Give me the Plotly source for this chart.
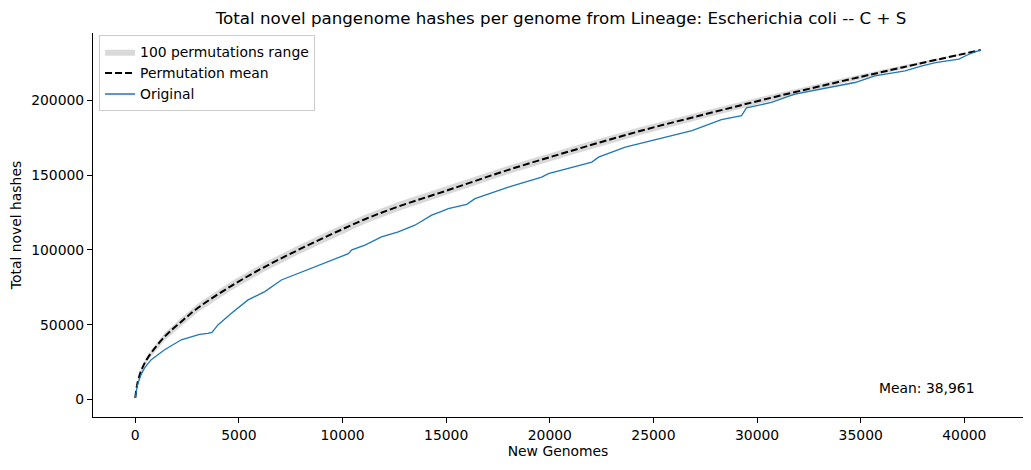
import plotly.graph_objects as go

# Permutation statistics
perm_x = [0, 100, 290, 610, 1415, 2220, 3030, 4640, 6250, 7860, 9470, 11080,
          12690, 15100, 18000, 21220, 24440, 27670, 30560, 33780, 37000, 40790]
perm_mean = [1000, 10500, 19500, 28000, 42000, 52000, 61300, 76000, 88700, 100000,
             110500, 120500, 129000, 140000, 153500, 167000, 179800, 191300,
             201300, 211800, 222000, 233600]
perm_upper = [1000, 11300, 21000, 30000, 44500, 54700, 64100, 79000, 91700, 103000,
              113500, 123500, 132000, 143000, 156300, 169700, 182400, 193700,
              203400, 213600, 223300, 233800]
perm_lower = [1000, 9700, 18000, 26000, 39500, 49300, 58500, 73000, 85700, 97000,
              107500, 117500, 126000, 137000, 150700, 164300, 177200, 188900,
              199200, 210000, 220700, 233400]

# Original ordering curve
orig_x = [0, 100, 290, 450, 770, 1415, 2220, 2700, 2900, 3100, 3500, 3700, 4000,
          4640, 5440, 6250, 7050, 7860, 8660, 9470, 10100, 10280, 10450, 11080,
          11880, 12690, 13490, 14300, 14780, 15100, 15990, 16390, 18000, 19610,
          19930, 21220, 22030, 22350, 23640, 25250, 26860, 28280, 29250, 29490,
          30690, 31820, 33110, 34720, 35690, 37140, 37960, 38610, 39740, 40220, 40790]
orig_y = [1000, 9500, 17000, 21100, 26600, 33300, 39900, 42000, 42600, 43600, 44200,
          44800, 50000, 57700, 66600, 72100, 79900, 84300, 88800, 92800, 96500,
          97500, 100000, 103200, 108700, 112100, 116500, 123200, 125800, 127600,
          130500, 134300, 142000, 148700, 151000, 155800, 158700, 162000, 168700,
          174200, 179800, 187100, 189700, 194900, 198600, 204200, 207500, 211900,
          216400, 219700, 223000, 225200, 227500, 230800, 233700]

x_ticks = [0, 5000, 10000, 15000, 20000, 25000, 30000, 35000, 40000]
y_ticks = [0, 50000, 100000, 150000, 200000]

title_text = "Total novel pangenome hashes per genome from Lineage: Escherichia coli -- C + S"
mean_label = "Mean: 38,961"

FONT = "DejaVu Sans"

fig = go.Figure()
fig.add_trace(go.Scatter(x=perm_x, y=perm_lower, mode="lines",
                         line=dict(width=0, color="rgba(128,128,128,0)"),
                         showlegend=False, hoverinfo="skip"))
fig.add_trace(go.Scatter(x=perm_x, y=perm_upper, mode="lines",
                         line=dict(width=0, color="rgba(128,128,128,0)"),
                         fill="tonexty", fillcolor="rgba(128,128,128,0.3)",
                         name="100 permutations range"))
fig.add_trace(go.Scatter(x=perm_x, y=perm_mean, mode="lines",
                         line=dict(color="black", width=2, dash="7px,3px"),
                         line_shape="spline",
                         name="Permutation mean"))
fig.add_trace(go.Scatter(x=orig_x, y=orig_y, mode="lines",
                         line=dict(color="#1f77b4", width=1.3),
                         name="Original"))

axis_common = dict(showline=True, linecolor="black", linewidth=1.1,
                   ticks="outside", ticklen=5, tickwidth=1.1, tickcolor="black",
                   showgrid=False, zeroline=False, mirror=False, automargin=False,
                   tickfont=dict(family=FONT, size=13.9, color="black"))

# The page body adds an 8px offset, so the figure is 8px smaller on each axis.
fig.update_layout(
    width=1023, height=462,
    margin=dict(l=85, r=8, t=25, b=53),
    plot_bgcolor="white", paper_bgcolor="white",
    font=dict(family=FONT, color="black"),
    title=dict(text=title_text, x=0.5406, xanchor="center", y=1 - 10 / 462,
               yanchor="middle", yref="container",
               font=dict(family=FONT, size=16.7, color="black")),
    xaxis=dict(range=[-2040, 42830], tickvals=x_ticks, tickformat="d",
               title=dict(text="New Genomes", standoff=4,
                          font=dict(family=FONT, size=13.9, color="black")),
               **axis_common),
    yaxis=dict(range=[-11700, 245000], tickvals=y_ticks, tickformat="d",
               title=dict(text="Total novel hashes", standoff=6,
                          font=dict(family=FONT, size=13.9, color="black")),
               **axis_common),
    legend=dict(x=0.0065, y=0.994, xanchor="left", yanchor="top",
                traceorder="normal",
                bgcolor="rgba(255,255,255,0.8)", bordercolor="#cccccc",
                borderwidth=1, itemwidth=30, tracegroupgap=0,
                font=dict(family=FONT, size=13.9, color="black")),
    annotations=[dict(text=mean_label, xref="paper", yref="paper",
                      x=0.95, y=0.05, xanchor="right", yanchor="bottom",
                      showarrow=False,
                      font=dict(family=FONT, size=13.9, color="black"))],
)

fig.write_html("out.html")
